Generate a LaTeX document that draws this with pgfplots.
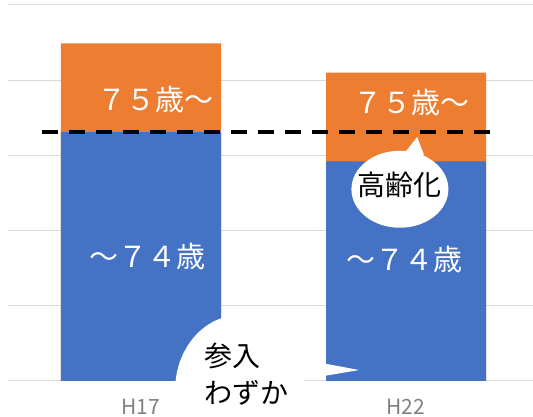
\documentclass[border=0pt]{standalone}
\usepackage{pgfplots}
\pgfplotsset{compat=1.18}
\usepackage{fontspec}
\setmainfont{Noto Sans CJK JP}
\definecolor{cblue}{HTML}{4472C4}
\definecolor{corange}{HTML}{ED7D31}
\definecolor{cgrid}{HTML}{D9D9D9}
\begin{document}
\begin{tikzpicture}
\useasboundingbox (0,0) rectangle (533pt,417pt);
\clip (0,0) rectangle (533pt,417pt);
\begin{axis}[
 at={(8.5pt,36pt)}, anchor=south west,
 scale only axis, width=530pt, height=376pt,
 xmin=-0.5, xmax=1.5, ymin=0, ymax=5,
 ybar, bar width=160pt,
 axis line style={draw=none},
 major tick style={draw=none},
 ymajorgrids, grid style={cgrid, line width=1pt},
 ytick={0,1,2,3,4,5}, yticklabels={},
 xtick={0,1}, xticklabels={H17,H22},
 xticklabel style={anchor=center, yshift=-22pt, font=\fontsize{21}{23}\selectfont, text=gray},
 clip=false,
]
% totals (orange: 75+), then under-75 (blue) on top
\addplot[fill=corange, draw=none, bar shift=0pt] coordinates {(0,4.49) (1,4.10)};
\addplot[fill=cblue, draw=none, bar shift=0pt] coordinates {(0,3.31) (1,2.92)};
\addplot[sharp plot, black, line width=3.2pt, dash pattern=on 16pt off 11pt] coordinates {(-0.374,3.31) (1.343,3.31)};

\node[text=white, font=\fontsize{29}{31}\selectfont] at (axis cs:0.053,3.74) {７５歳～};
\node[text=white, font=\fontsize{29}{31}\selectfont] at (axis cs:0.026,1.66) {～７４歳};
\node[text=white, font=\fontsize{29}{31}\selectfont] at (axis cs:1.019,3.70) {７５歳～};
\node[text=white, font=\fontsize{29}{31}\selectfont] at (axis cs:0.996,1.62) {～７４歳};

% bubble 高齢化
\fill[white] (axis cs:0.977,2.55) ellipse [x radius=48.5pt, y radius=38.5pt];
\fill[white] (axis cs:0.989,3.005) -- (axis cs:1.042,3.245) -- (axis cs:1.068,3.005) -- cycle;
\node[text=black, font=\fontsize{28}{30}\selectfont] at (axis cs:0.977,2.61) {高齢化};

% bubble 参入わずか
\fill[white] (axis cs:0.374,-0.12) ellipse [x radius=65pt, y radius=75pt];
\fill[white] (axis cs:0.581,0.306) -- (axis cs:0.823,0.146) -- (axis cs:0.6,0.013) -- cycle;
\node[text=black, anchor=west, inner sep=0pt, font=\fontsize{28}{30}\selectfont] at (axis cs:0.238,0.332) {参入};
\node[text=black, anchor=west, inner sep=0pt, font=\fontsize{28}{30}\selectfont] at (axis cs:0.238,-0.16) {わずか};
\end{axis}
\end{tikzpicture}
\end{document}
